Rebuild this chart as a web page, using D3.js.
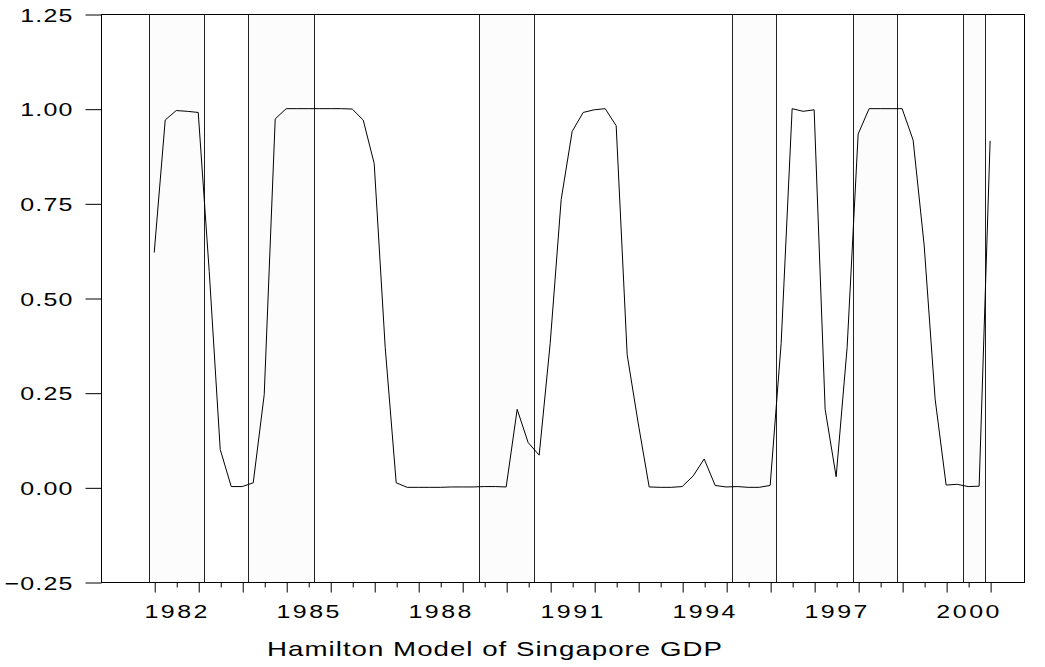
<!DOCTYPE html>
<html>
<head>
<meta charset="utf-8">
<script src="https://cdn.jsdelivr.net/npm/d3@7/dist/d3.min.js"></script>
<style>
  body { margin: 0; background: #fff; }
  svg text { font-family: "Liberation Sans", Arial, sans-serif; fill: #000; }
</style>
</head>
<body>
<div id="chart"></div>
<script>
// quarterly smoothed probabilities, starting 1982Q1
const startQuarter = '1982Q1'
const probs = [
  0.62, 0.97, 0.995, 0.993, 0.99, 0.57, 0.10, 0.002, 0.002, 0.012,
  0.245, 0.973, 1.00, 1.00, 1.00, 1.00, 1.00, 1.00, 0.999, 0.97,
  0.855, 0.37, 0.012, 0.00, 0.00, 0.00, 0.00, 0.001, 0.001, 0.001,
  0.002, 0.002, 0.001, 0.206, 0.118, 0.085, 0.38, 0.76, 0.94, 0.99,
  0.997, 1.00, 0.955, 0.35, 0.17, 0.001, 0.00, 0.00, 0.002, 0.03,
  0.075, 0.005, 0.001, 0.002, 0.00, 0.00, 0.005, 0.38, 1.00, 0.993,
  0.997, 0.206, 0.028, 0.37, 0.933, 1.00, 1.00, 1.00, 1.00, 0.917,
  0.64, 0.233, 0.006, 0.008, 0.002, 0.003, 0.915
]
// shaded periods (first and last quarter)
const bandStarts = ['1982Q1', '1984Q2', '1989Q3', '1995Q2', '1998Q1', '2000Q3']
const bandEnds = ['1983Q1', '1985Q3', '1990Q3', '1996Q1', '1998Q4', '2000Q4']
const yTicks = [-0.25, 0, 0.25, 0.5, 0.75, 1, 1.25]
const yearLabels = [1982, 1985, 1988, 1991, 1994, 1997, 2000]
const title = 'Hamilton Model of Singapore GDP'

const width = 1045
const height = 667
const plotLeft = 101, plotRight = 1024, plotTop = 14, plotBottom = 582

const qToTime = q => +q.slice(0, 4) + (+q.slice(5) - 1) / 4
const t0 = qToTime(startQuarter)
const data = probs.map((v, i) => ({t: t0 + i / 4, v}))
const tEnd = data[data.length - 1].t

const x = d3.scaleLinear().domain([t0 - 1.21, tEnd + 0.77]).range([plotLeft, plotRight])
const y = d3.scaleLinear().domain([-0.25, 1.25]).range([plotBottom, plotTop])

const svg = d3.select('#chart')
  .append('svg')
  .attr('width', width)
  .attr('height', height)

// shaded bands
const bands = bandStarts.map((s, i) => ({x0: qToTime(s) - 0.125, x1: qToTime(bandEnds[i]) + 0.125}))
const bandG = svg.append('g')
bandG.selectAll('rect')
  .data(bands)
  .enter()
  .append('rect')
  .attr('x', d => x(d.x0))
  .attr('y', plotTop)
  .attr('width', d => x(d.x1) - x(d.x0))
  .attr('height', plotBottom - plotTop)
  .attr('fill', '#fcfcfc')
bandG.selectAll('line')
  .data(bands.flatMap(d => [d.x0, d.x1]))
  .enter()
  .append('line')
  .attr('x1', d => Math.round(x(d)) + 0.5)
  .attr('x2', d => Math.round(x(d)) + 0.5)
  .attr('y1', plotTop)
  .attr('y2', plotBottom)
  .attr('stroke', '#222')
  .attr('stroke-width', 1)

// probability line
svg.append('path')
  .datum(data)
  .attr('fill', 'none')
  .attr('stroke', '#000')
  .attr('stroke-width', 1)
  .attr('d', d3.line().x(d => x(d.t)).y(d => y(d.v)))

// frame
svg.append('rect')
  .attr('x', plotLeft + 0.5)
  .attr('y', plotTop + 0.5)
  .attr('width', plotRight - plotLeft)
  .attr('height', plotBottom - plotTop)
  .attr('fill', 'none')
  .attr('stroke', '#000')
  .attr('shape-rendering', 'crispEdges')

// y axis
const yAxis = svg.append('g')
  .attr('transform', `translate(${plotLeft + 0.5},0.5)`)
  .call(d3.axisLeft(y).tickValues(yTicks).tickSize(16).tickFormat(d3.format('.2f')))
yAxis.select('.domain').remove()
yAxis.selectAll('.tick line').attr('stroke', '#000')
yAxis.selectAll('.tick text')
  .attr('x', null)
  .attr('dy', '0.36em')
  .attr('transform', 'translate(-28,0) scale(1.35,1)')
  .style('font-size', '18.5px')
  .style('letter-spacing', '0.85px')
  .style('font-family', '"Liberation Sans", Arial, sans-serif')
  .attr('fill', '#000')

// x axis: long ticks at years, short ticks at half years
const years = d3.range(Math.ceil(t0), Math.floor(tEnd) + 1)
const halves = years.slice(0, -1).map(d => d + 0.5)
const xLong = svg.append('g')
  .attr('transform', `translate(0.5,${plotBottom + 0.5})`)
  .call(d3.axisBottom(x).tickValues(years).tickSize(10).tickFormat(''))
const xShort = svg.append('g')
  .attr('transform', `translate(0.5,${plotBottom + 0.5})`)
  .call(d3.axisBottom(x).tickValues(halves).tickSize(5).tickFormat(''))
xLong.select('.domain').remove()
xShort.select('.domain').remove()
svg.selectAll('.tick line').attr('stroke', '#000')

svg.append('g')
  .selectAll('text')
  .data(yearLabels)
  .enter()
  .append('text')
  .attr('transform', d => `translate(${x(d + 0.5) + 1},618) scale(1.35,1)`)
  .attr('text-anchor', 'middle')
  .style('font-size', '18.5px')
  .style('letter-spacing', '1.85px')
  .text(d => d)

svg.append('text')
  .attr('transform', 'translate(495,656) scale(1.35,1)')
  .attr('text-anchor', 'middle')
  .style('font-size', '20.5px')
  .style('letter-spacing', '0.75px')
  .text(title)
</script>
</body>
</html>
